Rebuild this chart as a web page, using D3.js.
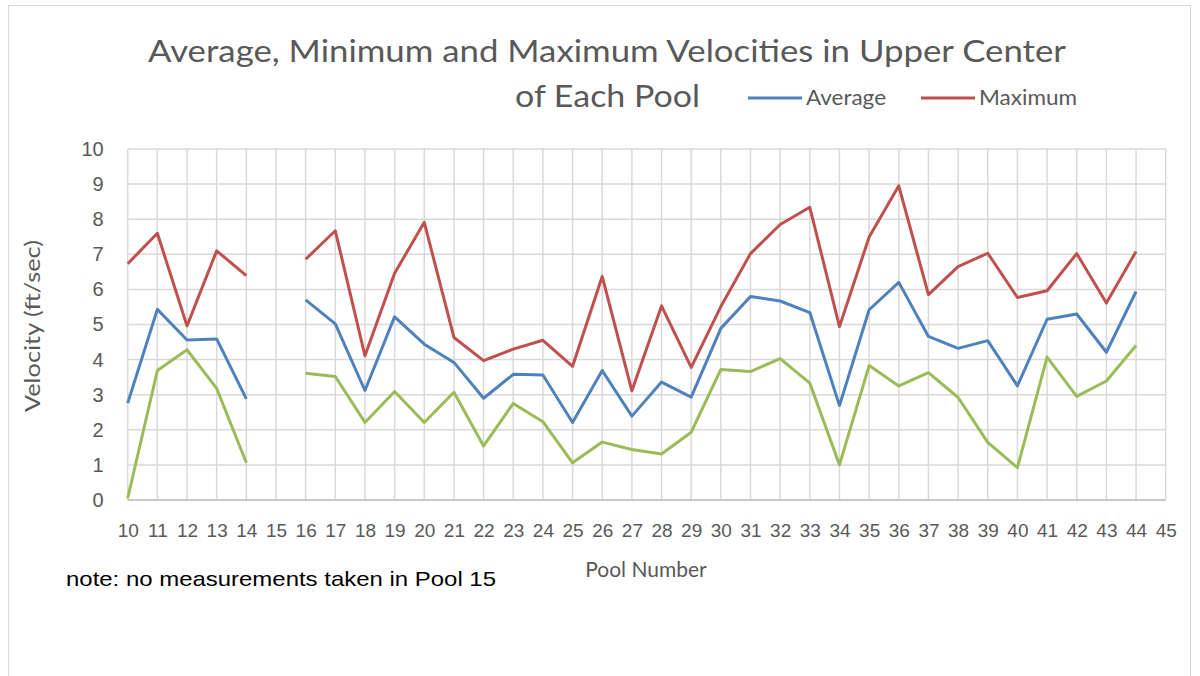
<!DOCTYPE html>
<meta charset="utf-8">
<style>
    body { margin: 0; background: #fff; }
    svg { font-family: Lato, "Open Sans", sans-serif; }
    .grid line { stroke: #d9d9d9; stroke-width: 1.5; }
    .axis text { fill: #595959; font-size: 20px; }
    .series { fill: none; stroke-width: 3; stroke-linejoin: round; }
</style>
<body>
<script src="https://d3js.org/d3.v7.min.js"></script>
<script>

    // pools 10..44, no data in pool 15
    var pools = d3.range(10, 45);
    var average = [2.76, 5.43, 4.56, 4.59, 2.88, null, 5.70, 5.02, 3.12, 5.22, 4.44, 3.92, 2.90, 3.58, 3.56, 2.21, 3.69, 2.39, 3.36, 2.93, 4.89, 5.80, 5.67, 5.34, 2.69, 5.42, 6.20, 4.66, 4.32, 4.54, 3.25, 5.15, 5.30, 4.21, 5.94];
    var maximum = [6.73, 7.60, 4.96, 7.10, 6.39, null, 6.86, 7.67, 4.11, 6.46, 7.91, 4.63, 3.97, 4.30, 4.55, 3.81, 6.37, 3.11, 5.53, 3.78, 5.51, 7.02, 7.85, 8.34, 4.94, 7.49, 8.95, 5.85, 6.65, 7.03, 5.77, 5.96, 7.02, 5.61, 7.08];
    var minimum = [0.05, 3.69, 4.28, 3.18, 1.06, null, 3.61, 3.52, 2.21, 3.09, 2.21, 3.07, 1.54, 2.75, 2.23, 1.06, 1.65, 1.44, 1.31, 1.93, 3.72, 3.66, 4.03, 3.33, 1.00, 3.83, 3.25, 3.63, 2.92, 1.64, 0.92, 4.07, 2.95, 3.39, 4.40];
    var xTicks = d3.range(10, 46);
    var yTicks = d3.range(0, 11);

    var width = 1200, height = 676;
    var plotLeft = 127.7, plotRight = 1165.7, plotTop = 149, plotBottom = 500;

    var svg = d3.select("body").append("svg")
        .attr("width", width)
        .attr("height", height);

    // chart border
    svg.append("rect")
        .attr("x", 8.5).attr("y", 5.5)
        .attr("width", 1182).attr("height", 700)
        .attr("fill", "none").attr("stroke", "#d9d9d9");

    var x = d3.scaleLinear().domain([10, 45]).range([plotLeft, plotRight]);
    var y = d3.scaleLinear().domain([0, 10]).range([plotBottom, plotTop]);

    // grid
    var grid = svg.append("g").attr("class", "grid");
    grid.selectAll("line.h").data(yTicks).enter().append("line")
        .attr("class", "h")
        .attr("x1", plotLeft).attr("x2", plotRight)
        .attr("y1", function(d) { return y(d); })
        .attr("y2", function(d) { return y(d); });
    grid.selectAll("line.v").data(xTicks).enter().append("line")
        .attr("class", "v")
        .attr("y1", plotTop).attr("y2", plotBottom)
        .attr("x1", function(d) { return x(d); })
        .attr("x2", function(d) { return x(d); });
    svg.append("line")
        .attr("x1", plotLeft).attr("x2", plotRight)
        .attr("y1", y(0)).attr("y2", y(0))
        .attr("stroke", "#bfbfbf").attr("stroke-width", 1.5);

    // axes
    var yAxis = d3.axisLeft(y).tickValues(yTicks).tickSize(0).tickPadding(24);
    svg.append("g").attr("class", "axis")
        .attr("transform", "translate(" + plotLeft + ",0)")
        .call(yAxis)
        .call(function(g) { g.select(".domain").remove(); });

    var xAxis = d3.axisBottom(x).tickValues(xTicks).tickSize(0).tickPadding(24);
    svg.append("g").attr("class", "axis")
        .attr("transform", "translate(0," + plotBottom + ")")
        .call(xAxis)
        .call(function(g) { g.select(".domain").remove(); })
        .selectAll("text").style("font-size", "19px");

    svg.selectAll(".axis text").attr("fill", "#595959");

    // series
    var line = d3.line()
        .defined(function(d) { return d.v !== null; })
        .x(function(d) { return x(d.p); })
        .y(function(d) { return y(d.v); });

    function pts(vals) {
        return pools.map(function(p, i) { return {p: p, v: vals[i]}; });
    }

    [[minimum, "#9bbb59"], [average, "#4f81bd"], [maximum, "#c0504d"]].forEach(function(s) {
        svg.append("path")
            .datum(pts(s[0]))
            .attr("class", "series")
            .attr("stroke", s[1])
            .attr("d", line);
    });

    // titles
    svg.append("text")
        .attr("x", 607).attr("y", 62)
        .attr("text-anchor", "middle")
        .attr("textLength", 918).attr("lengthAdjust", "spacingAndGlyphs")
        .style("font-size", "31px").attr("fill", "#595959")
        .text("Average, Minimum and Maximum Velocities in Upper Center");
    svg.append("text")
        .attr("x", 515).attr("y", 107)
        .attr("textLength", 185).attr("lengthAdjust", "spacingAndGlyphs")
        .style("font-size", "31px").attr("fill", "#595959")
        .text("of Each Pool");

    // legend
    var legend = [["Average", "#4f81bd", 748, 80], ["Maximum", "#c0504d", 921, 98]];
    legend.forEach(function(l) {
        svg.append("line")
            .attr("x1", l[2]).attr("x2", l[2] + 54)
            .attr("y1", 98).attr("y2", 98)
            .attr("stroke", l[1]).attr("stroke-width", 3);
        svg.append("text")
            .attr("x", l[2] + 58).attr("y", 105)
            .attr("textLength", l[3]).attr("lengthAdjust", "spacingAndGlyphs")
            .style("font-size", "21px").attr("fill", "#595959")
            .text(l[0]);
    });

    // axis titles
    svg.append("text")
        .attr("transform", "translate(40,326) rotate(-90)")
        .attr("text-anchor", "middle")
        .attr("textLength", 172).attr("lengthAdjust", "spacingAndGlyphs")
        .style("font-size", "21px").attr("fill", "#595959")
        .text("Velocity (ft/sec)");
    svg.append("text")
        .attr("x", 646).attr("y", 577)
        .attr("text-anchor", "middle")
        .style("font-size", "21px").attr("fill", "#595959")
        .text("Pool Number");

    svg.append("text")
        .attr("x", 66).attr("y", 586)
        .attr("textLength", 430).attr("lengthAdjust", "spacingAndGlyphs")
        .style("font-family", "'Liberation Sans', Arial, sans-serif")
        .style("font-size", "21px").attr("fill", "#000")
        .text("note: no measurements taken in Pool 15");

</script>
</body>
